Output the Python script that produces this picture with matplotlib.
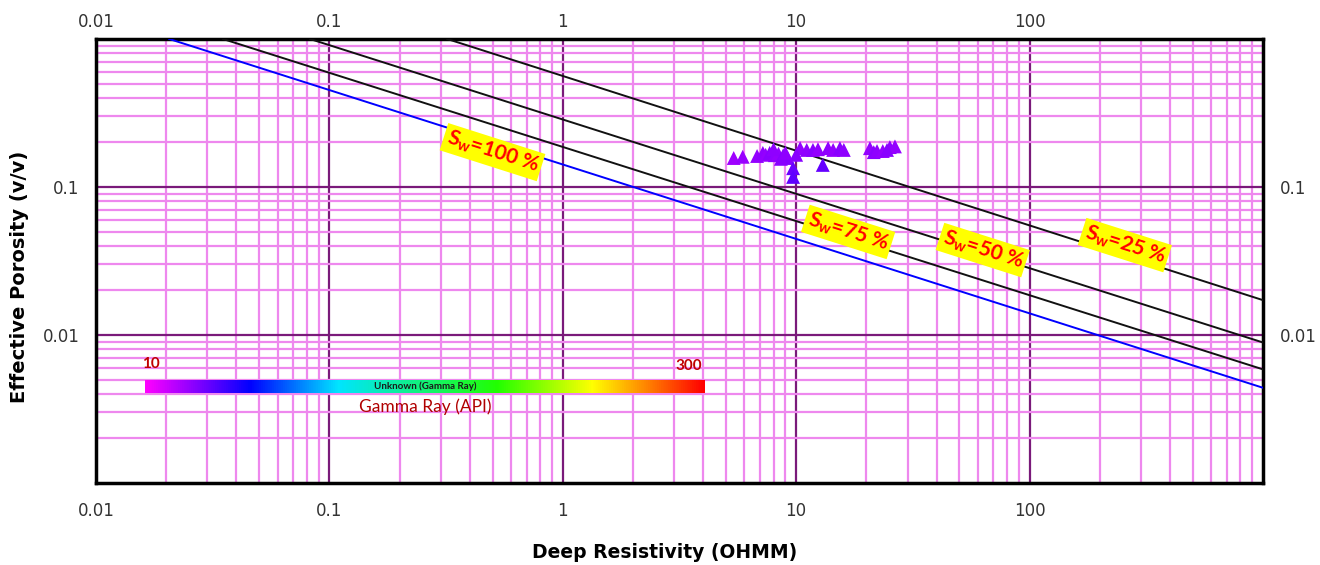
import numpy as np
import matplotlib
matplotlib.use("Agg")
import matplotlib.pyplot as plt
from matplotlib.colors import LinearSegmentedColormap, Normalize
from matplotlib.ticker import FixedLocator, LogLocator, NullFormatter

# Sw lines: endpoints (Rt, phi) in the log-log frame
sw_names = ["100", "75", "50", "25"]
sw_rt_start = [0.0206, 0.035, 0.0826, 0.32]
sw_phi_start = [1.0, 1.0, 1.0, 1.0]
sw_rt_end = [1000.0, 1000.0, 1000.0, 1000.0]
sw_phi_end = [0.0044, 0.00586, 0.0089, 0.0172]
sw_colors = ["#0000ff", "#111111", "#111111", "#111111"]

# label anchors (Rt, phi)
lab_rt = [0.50, 16.7, 63.0, 256.0]
lab_phi = [0.172, 0.0497, 0.0375, 0.0405]

# well data: deep resistivity, effective porosity, gamma ray
rt = [5.4, 5.9, 6.8, 7.2, 7.4, 7.7, 8.1, 8.4, 8.8, 8.0, 9.2, 9.7, 9.7, 10.4,
      10.0, 11.1, 11.8, 12.4, 13.0, 13.7, 14.4, 15.4, 16.0, 20.7, 21.5, 22.2,
      23.5, 25.2, 26.5, 24.5, 8.6, 9.0]
phi = [0.157, 0.160, 0.162, 0.170, 0.165, 0.170, 0.164, 0.168, 0.164, 0.180,
       0.157, 0.134, 0.117, 0.183, 0.165, 0.178, 0.178, 0.180, 0.141, 0.183,
       0.178, 0.183, 0.178, 0.183, 0.172, 0.175, 0.175, 0.186, 0.188, 0.178,
       0.155, 0.170]
gr = [31, 32, 33, 34, 33, 35, 34, 33, 36, 34, 37, 42, 44, 33, 36, 34, 35, 33,
      43, 34, 33, 35, 34, 33, 35, 34, 33, 34, 33, 35, 36, 34]

gr_min, gr_max = 10, 300
gr_stops = [0.0, 0.187, 0.345, 0.63, 0.80, 1.0]
gr_colors = ["#ff00ff", "#0000ff", "#00e5ff", "#22ff00", "#ffff00", "#ff0000"]
gr_cmap = LinearSegmentedColormap.from_list("gr", list(zip(gr_stops, gr_colors)))

xmaj = [0.01, 0.1, 1, 10, 100]
ymaj = [0.01, 0.1]

fig = plt.figure(figsize=(13.2, 5.65), dpi=100)
ax = fig.add_axes([0.0727, 0.1451, 0.9568 - 0.0727, 0.931 - 0.1451])
ax.set_xscale("log")
ax.set_yscale("log")
ax.set_xlim(0.01, 1000)
ax.set_ylim(0.001, 1)

ax.xaxis.set_major_locator(FixedLocator(xmaj))
ax.yaxis.set_major_locator(FixedLocator(ymaj))
ax.set_xticklabels([str(v) for v in xmaj])
ax.set_yticklabels([str(v) for v in ymaj])
ax.xaxis.set_minor_locator(LogLocator(base=10, subs=np.arange(2, 10)))
ax.yaxis.set_minor_locator(LogLocator(base=10, subs=np.arange(2, 10)))
ax.xaxis.set_minor_formatter(NullFormatter())
ax.yaxis.set_minor_formatter(NullFormatter())

ax.set_axisbelow(True)
ax.grid(which="minor", color="#ee88ee", linewidth=1.6)
ax.grid(which="major", color="#7a1a7a", linewidth=1.6)

ax.tick_params(which="both", length=0, labelsize=12, labelcolor="#333333")
ax.tick_params(axis="x", which="major", pad=14)
ax.tick_params(axis="y", which="major", labelright=True, pad=12)

# top scale repeats the resistivity decades
top = ax.secondary_xaxis("top")
top.xaxis.set_major_locator(FixedLocator(xmaj))
top.xaxis.set_minor_locator(FixedLocator([]))
top.set_xticks(xmaj, [str(v) for v in xmaj])
top.tick_params(length=0, labelsize=12, labelcolor="#333333", pad=6)
top.spines["top"].set_visible(False)

for side in ax.spines.values():
    side.set_linewidth(2.5)
    side.set_color("black")

for i in range(len(sw_names)):
    ax.plot([sw_rt_start[i], sw_rt_end[i]], [sw_phi_start[i], sw_phi_end[i]],
            color=sw_colors[i], linewidth=1.4, zorder=3)

# line angle on screen
fig.canvas.draw()
p0 = ax.transData.transform((sw_rt_start[0], sw_phi_start[0]))
p1 = ax.transData.transform((sw_rt_end[0], sw_phi_end[0]))
ang = np.degrees(np.arctan2(p1[1] - p0[1], p1[0] - p0[0]))

for i in range(len(sw_names)):
    ax.text(lab_rt[i], lab_phi[i], r"$\mathregular{S_w}$=" + sw_names[i] + " %",
            rotation=ang, rotation_mode="anchor", ha="center", va="center",
            color="#ff0000", fontsize=15, fontweight="bold", family="Lato",
            bbox=dict(boxstyle="square,pad=0.15", fc="#ffff00", ec="none"),
            zorder=5)

ax.scatter(rt, phi, c=gr, cmap=gr_cmap, norm=Normalize(gr_min, gr_max),
           marker="^", s=100, edgecolors="none", zorder=4)

ax.set_xlabel("Deep Resistivity (OHMM)", fontsize=13.5, fontweight="bold")
ax.set_ylabel("Effective Porosity (v/v)", fontsize=14, fontweight="bold")
ax.xaxis.set_label_coords(0.4876, -0.135)
ax.yaxis.set_label_coords(-0.057, 0.464)

# gamma ray colour bar
cax = fig.add_axes([145 / 1320, 1 - 393 / 565, 560 / 1320, 13 / 565])
cax.imshow(np.linspace(gr_min, gr_max, 512)[None, :], aspect="auto",
           cmap=gr_cmap, extent=[0, 1, 0, 1])
cax.set_axis_off()
cax.text(0.5, 0.5, "Unknown (Gamma Ray)", ha="center", va="center",
         fontsize=7, fontweight="bold", color="#1a1a1a", family="Lato")
cax.text(-0.005, 1.7, str(gr_min), ha="left", va="bottom", fontsize=11,
         fontweight="bold", color="#c00000", family="Lato")
cax.text(0.995, 1.55, str(gr_max), ha="right", va="bottom", fontsize=11,
         fontweight="bold", color="#c00000", family="Lato")
cax.text(0.5, -0.45, "Gamma Ray (API)", ha="center", va="top", fontsize=12.5,
         color="#b00000", family="Lato")

fig.savefig("out.png", dpi=100)
